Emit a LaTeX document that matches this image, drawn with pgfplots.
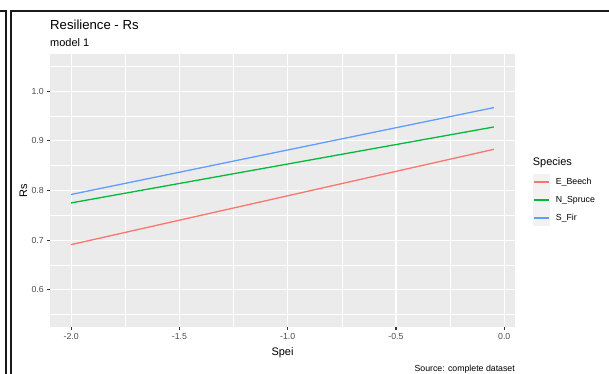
\documentclass[border=0pt]{standalone}
\usepackage{fontspec}
\setmainfont{Liberation Sans}
\usepackage{pgfplots}
\pgfplotsset{compat=1.18}
\definecolor{panelbg}{HTML}{EBEBEB}
\definecolor{keybg}{HTML}{F2F2F2}
\definecolor{ticklab}{HTML}{4D4D4D}
\definecolor{tickcol}{HTML}{333333}
\definecolor{cbeech}{HTML}{F8766D}
\definecolor{cspruce}{HTML}{00BA38}
\definecolor{cfir}{HTML}{619CFF}
\definecolor{framecol}{HTML}{1A1A1A}
\begin{document}
\begin{tikzpicture}
\path[use as bounding box] (0bp,0bp) rectangle (609bp,-374bp);
\begin{axis}[
  scale only axis, width=465bp, height=273bp,
  at={(50bp,-327bp)}, anchor=south west,
  xmin=-2.0976, xmax=0.0496, ymin=0.525, ymax=1.075,
  axis background/.style={fill=panelbg},
  axis line style={draw=none},
  xtick={-2,-1.5,-1,-0.5,0}, ytick={0.6,0.7,0.8,0.9,1.0},
  minor xtick={-1.75,-1.25,-0.75,-0.25},
  minor ytick={0.55,0.65,0.75,0.85,0.95,1.05},
  grid=both,
  major grid style={white, line width=1.07pt},
  minor grid style={white, line width=0.53pt},
  tick align=outside, major tick length=2.75pt,
  minor tick style={draw=none},
  xtick pos=bottom, ytick pos=left,
  major tick style={tickcol, line width=1.07pt},
  tick label style={font=\fontsize{8.8}{10}\selectfont, text=ticklab},
  /pgf/number format/assume math mode=true,
  xticklabel style={/pgf/number format/fixed, /pgf/number format/fixed zerofill, /pgf/number format/precision=1},
  yticklabel style={/pgf/number format/fixed, /pgf/number format/fixed zerofill, /pgf/number format/precision=1},
  clip=false,
]
\addplot[cbeech, line width=1.3pt] coordinates {(-2.0,0.691) (-0.048,0.883)};
\addplot[cspruce, line width=1.3pt] coordinates {(-2.0,0.775) (-0.048,0.928)};
\addplot[cfir, line width=1.3pt] coordinates {(-2.0,0.792) (-0.048,0.967)};
\end{axis}
% titles and labels
\node[anchor=base west, inner sep=0pt, font=\fontsize{13.2}{15}\selectfont] at (50bp,-29bp) {Resilience - Rs};
\node[anchor=base west, inner sep=0pt, font=\fontsize{11}{13}\selectfont] at (50bp,-46.5bp) {model 1};
\node[anchor=base, inner sep=0pt, font=\fontsize{11}{13}\selectfont] at (282.5bp,-355bp) {Spei};
\node[anchor=base, inner sep=0pt, rotate=90, font=\fontsize{11}{13}\selectfont] at (27bp,-190.5bp) {Rs};
\node[anchor=base east, inner sep=0pt, font=\fontsize{8.8}{10}\selectfont] at (515bp,-371bp) {Source: complete dataset};
% legend
\node[anchor=base west, inner sep=0pt, font=\fontsize{11}{13}\selectfont] at (532.7bp,-165.7bp) {Species};
\fill[keybg] (532.7bp,-173.5bp) rectangle (550bp,-190.6bp);
\fill[keybg] (532.7bp,-191.4bp) rectangle (550bp,-208.5bp);
\fill[keybg] (532.7bp,-209.3bp) rectangle (550bp,-226.4bp);
\draw[cbeech, line width=1.3pt] (534bp,-182bp) -- (548.7bp,-182bp);
\draw[cspruce, line width=1.3pt] (534bp,-200bp) -- (548.7bp,-200bp);
\draw[cfir, line width=1.3pt] (534bp,-218bp) -- (548.7bp,-218bp);
\node[anchor=west, inner sep=0pt, font=\fontsize{8.8}{10}\selectfont] at (555.7bp,-182bp) {E\_Beech};
\node[anchor=west, inner sep=0pt, font=\fontsize{8.8}{10}\selectfont] at (555.7bp,-200bp) {N\_Spruce};
\node[anchor=west, inner sep=0pt, font=\fontsize{8.8}{10}\selectfont] at (555.7bp,-218bp) {S\_Fir};
% window frame lines
\draw[framecol, line width=2bp] (0bp,-11bp) -- (6bp,-11bp) -- (6bp,-374bp);
\draw[framecol, line width=2bp] (11bp,-374bp) -- (11bp,-11bp) -- (609bp,-11bp);
\end{tikzpicture}
\end{document}
